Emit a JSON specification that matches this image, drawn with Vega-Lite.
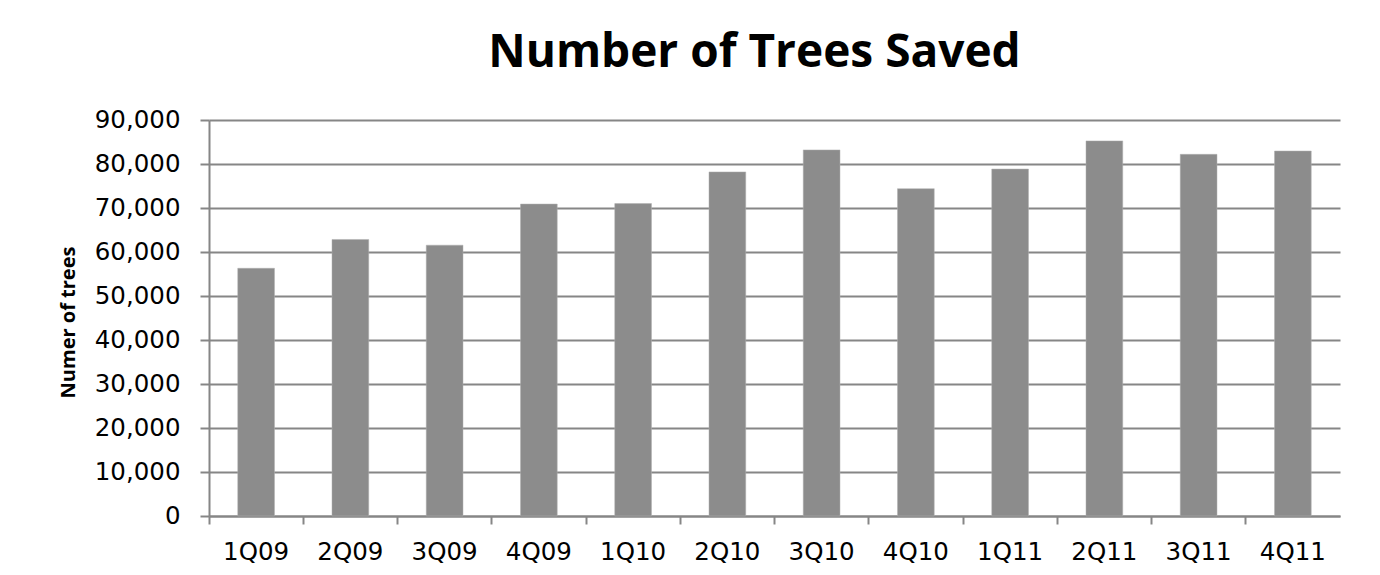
{
  "$schema": "https://vega.github.io/schema/vega-lite/v6.json",
  "autosize": "none",
  "width": 1131,
  "height": 396,
  "padding": {"left": 209, "top": 120, "right": 40, "bottom": 59},
  "background": "white",
  "title": {
    "text": "Number of Trees Saved",
    "font": "Open Sans",
    "fontSize": 46,
    "fontWeight": "bold",
    "color": "#000000",
    "anchor": "middle",
    "baseline": "alphabetic",
    "offset": 40,
    "dy": 46,
    "dx": -20
  },
  "data": {
    "values": [
      {"quarter": "1Q09", "trees": 56300},
      {"quarter": "2Q09", "trees": 62850},
      {"quarter": "3Q09", "trees": 61550},
      {"quarter": "4Q09", "trees": 70900},
      {"quarter": "1Q10", "trees": 71000},
      {"quarter": "2Q10", "trees": 78200},
      {"quarter": "3Q10", "trees": 83200},
      {"quarter": "4Q10", "trees": 74400},
      {"quarter": "1Q11", "trees": 78850},
      {"quarter": "2Q11", "trees": 85250},
      {"quarter": "3Q11", "trees": 82200},
      {"quarter": "4Q11", "trees": 82950}
    ]
  },
  "mark": {"type": "bar", "color": "#8c8c8c", "width": {"band": 0.39}, "stroke": "#b0b0b0", "strokeWidth": 0.5},
  "encoding": {
    "x": {
      "field": "quarter",
      "type": "nominal",
      "sort": null,
      "scale": {"paddingInner": 0, "paddingOuter": 0},
      "axis": {
        "title": null,
        "labelAngle": 0,
        "labelFont": "DejaVu Sans",
        "labelFontSize": 24.5,
        "labelColor": "#000000",
        "labelPadding": 16,
        "bandPosition": 0,
        "tickSize": 8,
        "tickColor": "#868686",
        "tickWidth": 2,
        "domainColor": "#868686",
        "domainWidth": 2,
        "grid": false
      }
    },
    "y": {
      "field": "trees",
      "type": "quantitative",
      "scale": {"domain": [0, 90000], "nice": false},
      "axis": {
        "title": "Numer of trees",
        "titleFont": "Open Sans",
        "titleFontSize": 20,
        "titleFontWeight": "bold",
        "titleColor": "#000000",
        "titlePadding": 16,
        "titleY": 202,
        "values": [0, 10000, 20000, 30000, 40000, 50000, 60000, 70000, 80000, 90000],
        "format": ",d",
        "labelFont": "DejaVu Sans",
        "labelFontSize": 24.5,
        "labelColor": "#000000",
        "labelPadding": 20,
        "tickSize": 9,
        "tickColor": "#868686",
        "tickWidth": 2,
        "domainColor": "#868686",
        "domainWidth": 2,
        "grid": true,
        "gridColor": "#868686",
        "gridWidth": 2
      }
    }
  },
  "config": {
    "view": {"stroke": null}
  }
}
